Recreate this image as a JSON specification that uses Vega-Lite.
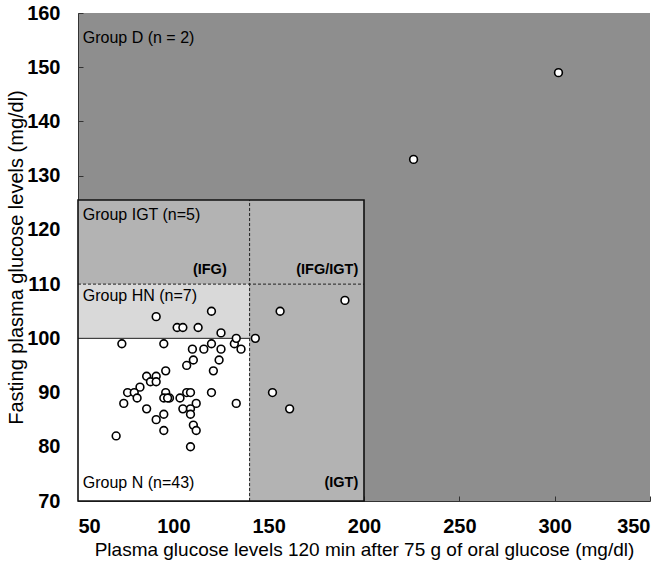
{
  "$schema": "https://vega.github.io/schema/vega-lite/v6.json",
  "width": 572,
  "height": 488,
  "autosize": "none",
  "padding": {"left": 78, "top": 13, "right": 22, "bottom": 67},
  "background": "white",
  "config": {
    "view": {"fill": "#8e8e8e", "stroke": null},
    "font": "Liberation Sans",
    "axis": {
      "grid": false,
      "domainColor": "#333333",
      "domainWidth": 1,
      "tickColor": "#333333",
      "tickSize": -5,
      "labelFont": "Liberation Sans",
      "labelFontWeight": "bold",
      "labelFontSize": 20,
      "labelColor": "#000000",
      "titleFont": "Liberation Sans",
      "titleFontWeight": "normal",
      "titleFontSize": 15,
      "titleColor": "#000000"
    }
  },
  "datasets": {
    "zones": [
      {"zone": "N", "x": 50, "x2": 140, "y": 70, "y2": 100},
      {"zone": "HN", "x": 50, "x2": 140, "y": 100, "y2": 110},
      {"zone": "IFG", "x": 50, "x2": 140, "y": 110, "y2": 125.5},
      {"zone": "IGT", "x": 140, "x2": 200, "y": 70, "y2": 125.5}
    ],
    "box": [{"x": 50, "x2": 200, "y": 70, "y2": 125.5}],
    "lines": [
      {"kind": "solid", "x": 50, "x2": 140, "y": 100, "y2": 100},
      {"kind": "dashed", "x": 50, "x2": 200, "y": 110, "y2": 110},
      {"kind": "dashed", "x": 140, "x2": 140, "y": 70, "y2": 125.5}
    ],
    "points": [
      {"g": "N", "x": 73, "y": 99}, {"g": "N", "x": 95, "y": 99}, {"g": "N", "x": 110, "y": 98}, {"g": "N", "x": 116, "y": 98},
      {"g": "N", "x": 120, "y": 99}, {"g": "N", "x": 125, "y": 98}, {"g": "N", "x": 132, "y": 99}, {"g": "N", "x": 135.5, "y": 98},
      {"g": "N", "x": 110.5, "y": 96}, {"g": "N", "x": 107, "y": 95}, {"g": "N", "x": 124, "y": 96}, {"g": "N", "x": 121, "y": 94},
      {"g": "N", "x": 96, "y": 94}, {"g": "N", "x": 86, "y": 93}, {"g": "N", "x": 91, "y": 93}, {"g": "N", "x": 88, "y": 92},
      {"g": "N", "x": 91, "y": 92}, {"g": "N", "x": 82.5, "y": 91}, {"g": "N", "x": 76, "y": 90}, {"g": "N", "x": 79.5, "y": 90},
      {"g": "N", "x": 96, "y": 90}, {"g": "N", "x": 107, "y": 90}, {"g": "N", "x": 109, "y": 90}, {"g": "N", "x": 120, "y": 90},
      {"g": "N", "x": 74, "y": 88}, {"g": "N", "x": 81, "y": 89}, {"g": "N", "x": 95, "y": 89}, {"g": "N", "x": 98, "y": 89},
      {"g": "N", "x": 103.5, "y": 89}, {"g": "N", "x": 97, "y": 89}, {"g": "N", "x": 105, "y": 87}, {"g": "N", "x": 112, "y": 88},
      {"g": "N", "x": 109, "y": 87}, {"g": "N", "x": 109, "y": 86}, {"g": "N", "x": 133, "y": 88}, {"g": "N", "x": 86, "y": 87},
      {"g": "N", "x": 95, "y": 86}, {"g": "N", "x": 91, "y": 85}, {"g": "N", "x": 110.5, "y": 84}, {"g": "N", "x": 95, "y": 83},
      {"g": "N", "x": 112, "y": 83}, {"g": "N", "x": 70, "y": 82}, {"g": "N", "x": 109, "y": 80},
      {"g": "HN", "x": 91, "y": 104}, {"g": "HN", "x": 120, "y": 105}, {"g": "HN", "x": 102, "y": 102}, {"g": "HN", "x": 105, "y": 102},
      {"g": "HN", "x": 113, "y": 102}, {"g": "HN", "x": 125, "y": 101}, {"g": "HN", "x": 133, "y": 100},
      {"g": "IGT", "x": 143, "y": 100}, {"g": "IGT", "x": 152, "y": 90}, {"g": "IGT", "x": 156, "y": 105}, {"g": "IGT", "x": 161, "y": 87},
      {"g": "IGT", "x": 190, "y": 107},
      {"g": "D", "x": 226, "y": 133}, {"g": "D", "x": 302, "y": 149}
    ],
    "labels": [
      {"kind": "group", "x": 52.5, "y": 155.4, "text": "Group D (n = 2)"},
      {"kind": "group", "x": 52.5, "y": 122.8, "text": "Group IGT (n=5)"},
      {"kind": "group", "x": 52.5, "y": 107.8, "text": "Group HN (n=7)"},
      {"kind": "group", "x": 52.5, "y": 73.3, "text": "Group N (n=43)"},
      {"kind": "zone", "x": 128, "y": 112.6, "text": "(IFG)"},
      {"kind": "zone", "x": 197, "y": 112.6, "text": "(IFG/IGT)"},
      {"kind": "zone", "x": 197, "y": 73.3, "text": "(IGT)"}
    ]
  },
  "layer": [
    {
      "data": {"name": "zones"},
      "mark": {"type": "rect"},
      "encoding": {
        "x": {"field": "x", "type": "quantitative", "scale": {"domain": [50, 350], "nice": false, "zero": false},
              "axis": {"values": [50, 100, 150, 200, 250, 300, 350], "labelPadding": 20, "title": "Plasma glucose levels 120 min after 75 g of oral glucose (mg/dl)", "titleFontSize": 19, "titlePadding": 4}},
        "x2": {"field": "x2"},
        "y": {"field": "y", "type": "quantitative", "scale": {"domain": [70, 160], "nice": false, "zero": false},
              "axis": {"values": [70, 80, 90, 100, 110, 120, 130, 140, 150, 160], "labelPadding": 23, "title": "Fasting plasma glucose levels (mg/dl)", "titleFontSize": 20, "titlePadding": 0}},
        "y2": {"field": "y2"},
        "color": {"field": "zone", "type": "nominal", "scale": {"domain": ["N", "HN", "IFG", "IGT"], "range": ["#ffffff", "#d9d9d9", "#b3b3b3", "#b3b3b3"]}, "legend": null}
      }
    },
    {
      "data": {"name": "lines"},
      "mark": {"type": "rule", "color": "#222222", "strokeWidth": 1},
      "encoding": {
        "x": {"field": "x", "type": "quantitative"},
        "x2": {"field": "x2"},
        "y": {"field": "y", "type": "quantitative"},
        "y2": {"field": "y2"},
        "strokeDash": {"field": "kind", "type": "nominal", "scale": {"domain": ["solid", "dashed"], "range": [[1, 0], [3, 2]]}, "legend": null},
        "strokeWidth": {"field": "kind", "type": "nominal", "scale": {"domain": ["solid", "dashed"], "range": [1.6, 1]}, "legend": null}
      }
    },
    {
      "data": {"name": "box"},
      "mark": {"type": "rect", "fill": null, "fillOpacity": 0, "stroke": "#111111", "strokeWidth": 1.6},
      "encoding": {
        "x": {"field": "x", "type": "quantitative"},
        "x2": {"field": "x2"},
        "y": {"field": "y", "type": "quantitative"},
        "y2": {"field": "y2"}
      }
    },
    {
      "data": {"name": "points"},
      "mark": {"type": "point", "shape": "circle", "filled": false, "fill": "#ffffff", "fillOpacity": 1, "stroke": "#000000", "strokeWidth": 1.6, "size": 60, "opacity": 1},
      "encoding": {
        "x": {"field": "x", "type": "quantitative"},
        "y": {"field": "y", "type": "quantitative"}
      }
    },
    {
      "data": {"name": "labels"},
      "transform": [{"filter": "datum.kind === 'group'"}],
      "mark": {"type": "text", "align": "left", "baseline": "middle", "fontSize": 16, "font": "Liberation Sans", "color": "#000000"},
      "encoding": {
        "x": {"field": "x", "type": "quantitative"},
        "y": {"field": "y", "type": "quantitative"},
        "text": {"field": "text"}
      }
    },
    {
      "data": {"name": "labels"},
      "transform": [{"filter": "datum.kind === 'zone'"}],
      "mark": {"type": "text", "align": "right", "baseline": "middle", "fontSize": 14.5, "fontWeight": "bold", "font": "Liberation Sans", "color": "#000000"},
      "encoding": {
        "x": {"field": "x", "type": "quantitative"},
        "y": {"field": "y", "type": "quantitative"},
        "text": {"field": "text"}
      }
    }
  ]
}
